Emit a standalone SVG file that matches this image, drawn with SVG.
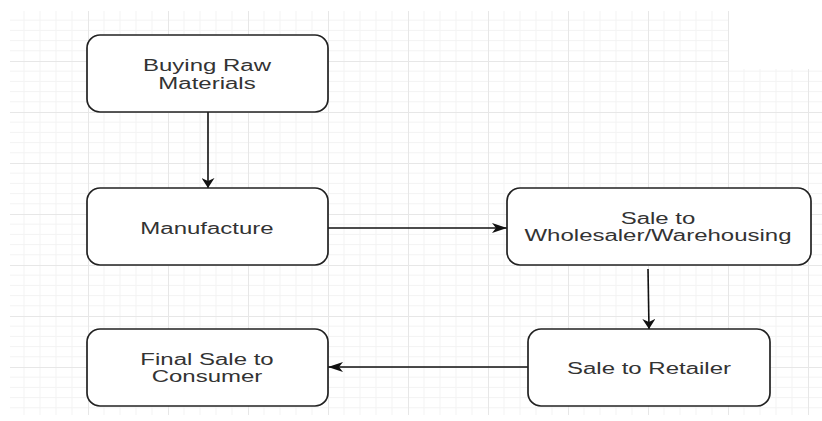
<svg xmlns="http://www.w3.org/2000/svg" width="822" height="421" viewBox="0 0 822 421">
<defs>
<pattern id="grid" patternUnits="userSpaceOnUse" x="8" y="10" width="80" height="51">
<path d="M16,0V51M32,0V51M48,0V51M64,0V51M0,10.2H80M0,20.4H80M0,30.6H80M0,40.8H80" stroke="#f3f3f3" stroke-width="1" fill="none"/>
<path d="M0.5,0V51M0,0.5H80" stroke="#e7e7e7" stroke-width="1" fill="none"/>
</pattern>
<marker id="av" markerUnits="userSpaceOnUse" orient="auto" markerWidth="10" markerHeight="13" refX="10" refY="6.5" viewBox="0 0 10 13">
<path d="M0,0 L10,6.5 L0,13 L3,6.5 z" fill="#111"/>
</marker>
<marker id="ah" markerUnits="userSpaceOnUse" orient="auto" markerWidth="15" markerHeight="10" refX="15" refY="5" viewBox="0 0 15 10">
<path d="M0,0 L15,5 L0,10 L4,5 z" fill="#111"/>
</marker>
<style>
.box{fill:#fff;stroke:#222;stroke-width:1.7}
.lbl{font-family:"Liberation Sans",Arial,sans-serif;font-size:24px;fill:#333;text-anchor:middle}
.edge{stroke:#111;stroke-width:1.6;fill:none}
</style>
</defs>
<rect width="822" height="421" fill="#fff"/>
<rect x="10" y="11" width="719" height="404" fill="url(#grid)"/>
<rect x="729" y="69" width="93" height="346" fill="url(#grid)"/>
<g id="connectors">
<path class="edge" d="M208,112 V188" marker-end="url(#av)"/>
<path class="edge" d="M328,228 H507" marker-end="url(#ah)"/>
<path class="edge" d="M648,269 L649,329" marker-end="url(#av)"/>
<path class="edge" d="M528,367 H328" marker-end="url(#ah)"/>
</g>
<g id="buying">
<rect class="box" x="87" y="35" width="241" height="77" rx="13"/>
<text class="lbl" transform="translate(207,71.3) scale(1,0.71)"><tspan x="0" y="0">Buying Raw</tspan><tspan x="0" y="24.6">Materials</tspan></text>
</g>
<g id="manufacture">
<rect class="box" x="87" y="188" width="241" height="77" rx="13"/>
<text class="lbl" transform="translate(207,234) scale(1,0.71)">Manufacture</text>
</g>
<g id="wholesaler">
<rect class="box" x="507" y="188" width="304" height="77" rx="13"/>
<text class="lbl" transform="translate(658,224) scale(1,0.71)"><tspan x="0" y="0">Sale to</tspan><tspan x="0" y="24.6">Wholesaler/Warehousing</tspan></text>
</g>
<g id="retailer">
<rect class="box" x="528" y="329" width="242" height="77" rx="13"/>
<text class="lbl" transform="translate(649,374) scale(1,0.71)">Sale to Retailer</text>
</g>
<g id="consumer">
<rect class="box" x="87" y="329" width="241" height="77" rx="13"/>
<text class="lbl" transform="translate(207,365) scale(1,0.71)"><tspan x="0" y="0">Final Sale to</tspan><tspan x="0" y="24.6">Consumer</tspan></text>
</g>
</svg>
